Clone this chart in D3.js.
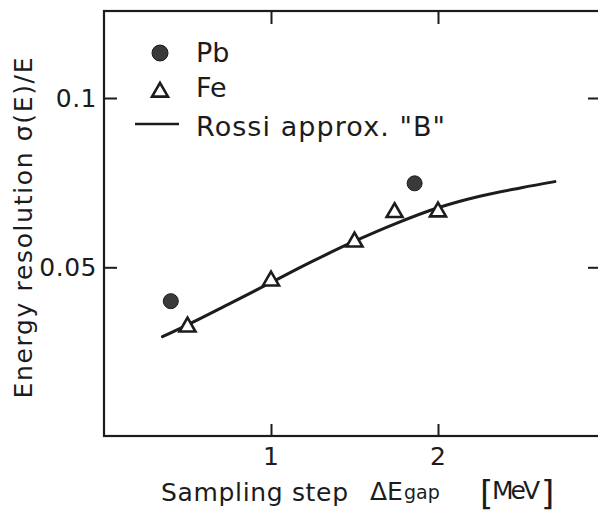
<!DOCTYPE html>
<html>
<head>
<meta charset="utf-8">
<script src="https://cdn.jsdelivr.net/npm/d3@7"></script>
<style>
  body { margin: 0; background: #fff; }
  text { font-family: "DejaVu Sans", sans-serif; fill: #1c1c1c; }
</style>
</head>
<body>
<svg id="chart" width="598" height="513"></svg>
<script>
// values
var pbX = [0.40, 1.86];
var pbY = [0.0400, 0.0748];
var feX = [0.50, 1.00, 1.50, 1.74, 2.00];
var feY = [0.0327, 0.0463, 0.0578, 0.0665, 0.0667];
var rossiX = [0.35, 0.50, 0.75, 1.00, 1.25, 1.50, 1.75, 2.00, 2.25, 2.50, 2.70];
var rossiY = [0.0295, 0.0330, 0.0392, 0.0455, 0.0518, 0.0577, 0.0630, 0.0676, 0.0710, 0.0735, 0.0753];
var xTicks = [1, 2];
var yTicks = [0.05, 0.1];
var legendLabels = ["Pb", "Fe", "Rossi approx. \"B\""];

var ink = "#1c1c1c";
var svg = d3.select("#chart");
var frame = { left: 104, right: 600, top: 11, bottom: 436 };

var xScale = d3.scaleLinear()
               .domain([0, 1])
               .range([frame.left, frame.left + 167]);
xScale.domain([0, xScale.invert(frame.right)]).range([frame.left, frame.right]);

var yScale = d3.scaleLinear()
               .domain([0, 0.1])
               .range([436.6, 98]);
yScale.domain([0, yScale.invert(frame.top)]).range([436.6, frame.top]);

// frame with inward ticks on all four sides
svg.append("g")
    .attr("transform", "translate(0," + frame.bottom + ")")
    .call(d3.axisTop(xScale).tickValues(xTicks).tickSize(12).tickFormat(""));
svg.append("g")
    .attr("transform", "translate(0," + frame.top + ")")
    .call(d3.axisBottom(xScale).tickValues(xTicks).tickSize(13).tickFormat(""));
svg.append("g")
    .attr("transform", "translate(" + frame.left + ",0)")
    .call(d3.axisRight(yScale).tickValues(yTicks).tickSize(13).tickFormat(""));
svg.append("g")
    .attr("transform", "translate(" + frame.right + ",0)")
    .call(d3.axisLeft(yScale).tickValues(yTicks).tickSize(12).tickFormat(""));

svg.selectAll(".domain").remove();
svg.selectAll(".tick line").attr("stroke", ink).attr("stroke-width", 2);

svg.append("rect")
    .attr("x", frame.left)
    .attr("y", frame.top)
    .attr("width", frame.right - frame.left)
    .attr("height", frame.bottom - frame.top)
    .attr("fill", "none")
    .attr("stroke", ink)
    .attr("stroke-width", 2.2);

// tick labels
svg.selectAll(".xlab")
    .data(xTicks)
    .enter()
    .append("text")
    .attr("x", d => xScale(d))
    .attr("y", 465)
    .attr("font-size", 25)
    .attr("text-anchor", "middle")
    .text(d => d);

svg.selectAll(".ylab")
    .data(yTicks)
    .enter()
    .append("text")
    .attr("x", 97)
    .attr("y", d => yScale(d) + 9)
    .attr("font-size", 25)
    .attr("letter-spacing", 0.5)
    .attr("text-anchor", "end")
    .text(d => d);

// axis titles
svg.append("text")
    .attr("transform", "translate(32,228) rotate(-90)")
    .attr("font-size", 25)
    .attr("text-anchor", "middle")
    .attr("textLength", 341)
    .attr("lengthAdjust", "spacing")
    .text("Energy resolution  σ(E)/E");

function xTitle(x, y, size, txt, width) {
  var t = svg.append("text")
      .attr("x", x)
      .attr("y", y)
      .attr("font-size", size)
      .text(txt);
  if (width) t.attr("textLength", width).attr("lengthAdjust", "spacing");
}
xTitle(161, 501, 25, "Sampling step", 187);
xTitle(370, 500, 25, "ΔE");
xTitle(404, 499, 19, "gap");
xTitle(480, 505, 34, "[");
xTitle(492, 499, 25, "MeV", 48);
xTitle(541, 505, 34, "]");

// Rossi curve
var line = d3.line()
             .x(d => xScale(d[0]))
             .y(d => yScale(d[1]))
             .curve(d3.curveCatmullRom);

svg.append("path")
    .datum(d3.zip(rossiX, rossiY))
    .attr("d", line)
    .attr("fill", "none")
    .attr("stroke", ink)
    .attr("stroke-width", 3)
    .attr("stroke-linecap", "round");

// Fe triangles
var tri = d3.symbol().type(d3.symbolTriangle).size(110);
svg.selectAll(".fe")
    .data(d3.zip(feX, feY))
    .enter()
    .append("path")
    .attr("d", tri)
    .attr("transform", d => "translate(" + xScale(d[0]) + "," + (yScale(d[1]) + 1) + ")")
    .attr("fill", "#fff")
    .attr("stroke", ink)
    .attr("stroke-width", 2.6)
    .attr("stroke-linejoin", "miter");

// Pb circles
svg.selectAll(".pb")
    .data(d3.zip(pbX, pbY))
    .enter()
    .append("circle")
    .attr("cx", d => xScale(d[0]))
    .attr("cy", d => yScale(d[1]))
    .attr("r", 7.5)
    .attr("fill", "#3a3a3a")
    .attr("stroke", ink)
    .attr("stroke-width", 1);

// legend
var legend = svg.append("g");
legend.append("circle")
    .attr("cx", 160).attr("cy", 53).attr("r", 8)
    .attr("fill", "#3a3a3a").attr("stroke", ink);
legend.append("path")
    .attr("d", tri)
    .attr("transform", "translate(160,92)")
    .attr("fill", "#fff").attr("stroke", ink).attr("stroke-width", 2.6);
legend.append("line")
    .attr("x1", 135).attr("x2", 179).attr("y1", 124).attr("y2", 124)
    .attr("stroke", ink).attr("stroke-width", 2.5);
legend.selectAll(".ltext")
    .data(legendLabels)
    .enter()
    .append("text")
    .attr("x", 196)
    .attr("y", (d, i) => [62, 97, 136][i])
    .attr("font-size", 27)
    .attr("textLength", (d, i) => i === 2 ? 249 : null)
    .attr("lengthAdjust", "spacing")
    .text(d => d);
</script>
</body>
</html>
